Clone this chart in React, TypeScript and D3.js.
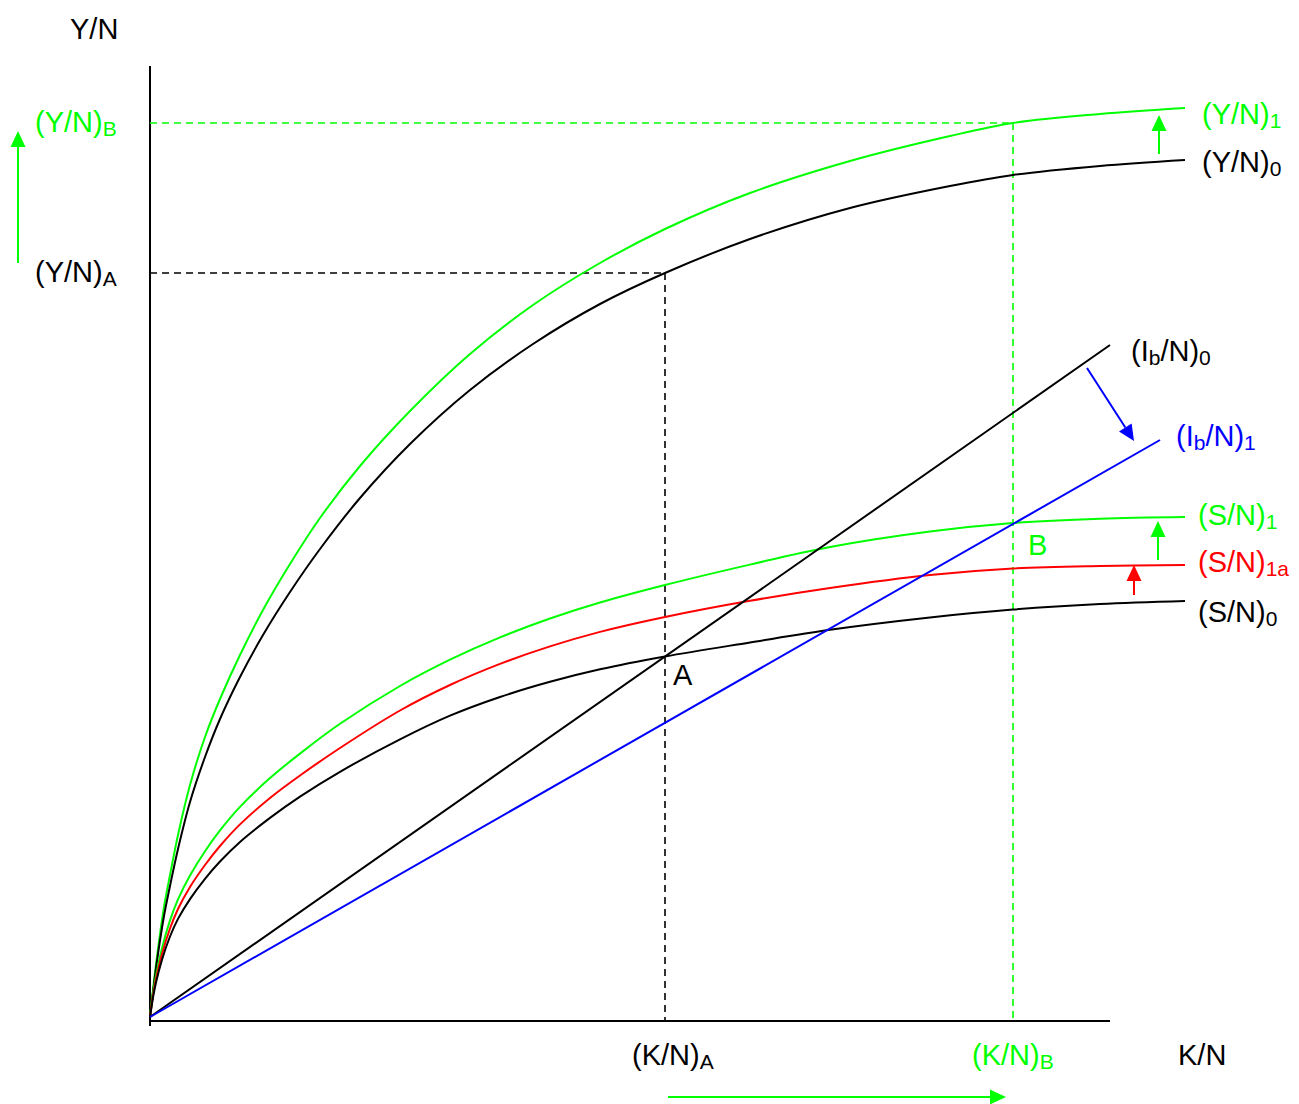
import React from "react";
import * as d3 from "d3";

// ---------- data (K/N on x, per-capita quantities on y) ----------
type P = [number, number];

const outputPerCapita0: P[] = [
  [0, 0], [0.4, 3.3], [0.8, 6.3], [1.4, 10.1], [2, 13.1], [2.8, 16.8], [4, 21.5], [5.5, 26.0],
  [7, 29.8], [9, 34.0], [11.3, 38.2], [14, 42.5], [17, 46.8], [21, 51.9], [26, 57.3],
  [32, 62.7], [38.3, 67.3], [45, 71.3], [51.5, 74.4], [60, 77.8], [70, 80.9], [80, 83.1],
  [86.3, 84.2], [95, 85.1], [103.5, 85.7],
];
const outputPerCapita1: P[] = [
  [0, 0], [0.4, 3.6], [0.8, 6.8], [1.4, 11.0], [2, 14.2], [2.8, 18.2], [4, 23.2], [5.5, 28.0],
  [7, 31.8], [9, 36.2], [11.3, 40.7], [14, 45.3], [17, 49.9], [21, 55.1], [26, 60.6],
  [32, 66.3], [38.3, 71.2], [45, 75.4], [51.5, 78.8], [60, 82.4], [70, 85.6], [80, 88.1],
  [86.3, 89.4], [95, 90.3], [103.5, 90.9],
];
const savingPerCapita0: P[] = [
  [0, 0], [0.3, 1.95], [0.6, 3.45], [1.2, 5.73], [2, 8.05], [2.8, 9.81], [4, 11.79],
  [5.5, 13.82], [7, 15.55], [9, 17.51], [12, 19.91], [15, 22.04], [19, 24.52], [25, 27.76],
  [30, 30.13], [35, 32.0], [40, 33.52], [45, 34.77], [51.5, 36.05], [60, 37.45], [68, 38.72],
  [78, 39.95], [86.3, 40.74], [95, 41.29], [103.5, 41.6],
];
const savingPerCapita1a: P[] = [
  [0, 0], [0.3, 2.15], [0.6, 3.8], [1.2, 6.3], [2, 8.85], [2.8, 10.8], [4, 13.0], [5.5, 15.2],
  [7, 17.1], [9, 19.26], [12, 21.9], [15, 24.15], [19, 26.9], [25, 30.65], [30, 33.2],
  [35, 35.31], [40, 37.06], [45, 38.51], [51.5, 40.0], [60, 41.62], [68, 42.9], [78, 44.2],
  [86.3, 44.85], [95, 45.1], [103.5, 45.2],
];
const savingPerCapita1: P[] = [
  [0, 0], [0.3, 2.34], [0.6, 4.14], [1.2, 6.88], [2, 9.66], [2.8, 11.77], [4, 14.15],
  [5.5, 16.58], [7, 18.66], [9, 21.01], [12, 23.89], [15, 26.34], [19, 29.32], [25, 33.1],
  [30, 35.73], [35, 37.96], [40, 39.85], [45, 41.45], [51.5, 43.2], [60, 45.24], [68, 47.0],
  [78, 48.55], [86.3, 49.4], [95, 49.83], [103.5, 50.0],
];
const breakEven0: P[] = [[0, 0], [96, 67.2]];
const breakEven1: P[] = [[0, 0], [101, 57.7]];

const kA = 51.5;
const kB = 86.3;
const yA = 74.4;
const yB = 89.4;

// arrows: [x1, y1, x2, y2] in data units (tip at x2,y2)
const arrowYLeft = [-13.2, 75.4, -13.2, 88.6];
const arrowYShift = [100.9, 86.3, 100.9, 90.2];
const arrowIb = [93.7, 64.9, 98.4, 57.6];
const arrowS1 = [100.8, 45.7, 100.8, 49.6];
const arrowS1a = [98.4, 42.2, 98.4, 45.2];
const arrowK = [51.8, -8.0, 85.6, -8.0];

const GREEN = "#00ff00";
const RED = "#ff0000";
const BLUE = "#0000ff";
const BLACK = "#000000";

const W = 1299;
const H = 1104;

const x = d3.scaleLinear().domain([0, 96]).range([150, 1110]);
const y = d3.scaleLinear().domain([0, 95.2]).range([1017, 65]);

const curve = d3
  .line<P>()
  .x((d) => x(d[0]))
  .y((d) => y(d[1]))
  .curve(d3.curveCatmullRom.alpha(0.5));

const FONT = "'Liberation Sans', Arial, sans-serif";
const FS = 29;
const SUB = 21;

function Label({
  px, py, main, sub, color, tail, mainAfter,
}: {
  px: number; py: number; main: string; sub?: string; color: string; tail?: string; mainAfter?: string;
}) {
  return (
    <text x={px} y={py} fill={color} fontFamily={FONT} fontSize={FS}>
      {main}
      {sub !== undefined && (
        <tspan fontSize={SUB} dy={4}>{sub}</tspan>
      )}
      {mainAfter !== undefined && (
        <tspan dy={-4}>{mainAfter}</tspan>
      )}
      {tail !== undefined && (
        <tspan fontSize={SUB} dy={4}>{tail}</tspan>
      )}
    </text>
  );
}

function Arrow({ a, color }: { a: number[]; color: string }) {
  const x1 = x(a[0]), y1 = y(a[1]), x2 = x(a[2]), y2 = y(a[3]);
  const ang = Math.atan2(y2 - y1, x2 - x1);
  const len = 16, half = 7.5;
  const bx = x2 - len * Math.cos(ang), by = y2 - len * Math.sin(ang);
  const px = -Math.sin(ang), py = Math.cos(ang);
  const pts = `${x2},${y2} ${bx + half * px},${by + half * py} ${bx - half * px},${by - half * py}`;
  return (
    <g>
      <line x1={x1} y1={y1} x2={bx} y2={by} stroke={color} strokeWidth={2} />
      <polygon points={pts} fill={color} />
    </g>
  );
}

export default function App() {
  const axisY = y(0) + 4;
  return (
    <svg
      width={W}
      height={H}
      viewBox={`0 0 ${W} ${H}`}
      style={{ position: "absolute", left: 0, top: 0, background: "#fff" }}
    >
      {/* axes */}
      <line x1={x(0)} y1={y(0) + 9} x2={x(0)} y2={66} stroke={BLACK} strokeWidth={2} />
      <line x1={x(0)} y1={axisY} x2={x(96)} y2={axisY} stroke={BLACK} strokeWidth={2} />

      {/* guide lines */}
      <g strokeWidth={1.6} strokeDasharray="7,5" fill="none">
        <line x1={x(0)} y1={y(yA)} x2={x(kA)} y2={y(yA)} stroke={BLACK} />
        <line x1={x(kA)} y1={y(yA)} x2={x(kA)} y2={axisY} stroke={BLACK} />
        <line x1={x(0)} y1={y(yB)} x2={x(kB)} y2={y(yB)} stroke={GREEN} />
        <line x1={x(kB)} y1={y(yB)} x2={x(kB)} y2={axisY} stroke={GREEN} />
      </g>

      {/* curves */}
      <g fill="none" strokeWidth={2}>
        <path d={curve(outputPerCapita1) || ""} stroke={GREEN} />
        <path d={curve(outputPerCapita0) || ""} stroke={BLACK} />
        <path d={curve(savingPerCapita1) || ""} stroke={GREEN} />
        <path d={curve(savingPerCapita1a) || ""} stroke={RED} />
        <path d={curve(savingPerCapita0) || ""} stroke={BLACK} />
        <path d={curve(breakEven0) || ""} stroke={BLACK} />
        <path d={curve(breakEven1) || ""} stroke={BLUE} />
      </g>

      {/* arrows */}
      <Arrow a={arrowYLeft} color={GREEN} />
      <Arrow a={arrowYShift} color={GREEN} />
      <Arrow a={arrowIb} color={BLUE} />
      <Arrow a={arrowS1} color={GREEN} />
      <Arrow a={arrowS1a} color={RED} />
      <Arrow a={arrowK} color={GREEN} />

      {/* labels */}
      <text x={70} y={39} fontFamily={FONT} fontSize={FS} fill={BLACK}>Y/N</text>
      <Label px={35} py={y(yB) + 9} main="(Y/N)" sub="B" color={GREEN} />
      <Label px={35} py={y(yA) + 9} main="(Y/N)" sub="A" color={BLACK} />
      <Label px={1202} py={y(90.9) + 16} main="(Y/N)" sub="1" color={GREEN} />
      <Label px={1202} py={y(85.7) + 12} main="(Y/N)" sub="0" color={BLACK} />
      <Label px={1131} py={y(67.2) + 16} main="(I" sub="b" mainAfter="/N)" tail="0" color={BLACK} />
      <Label px={1176} py={y(57.7) + 6} main="(I" sub="b" mainAfter="/N)" tail="1" color={BLUE} />
      <Label px={1198} py={y(50.0) + 8} main="(S/N)" sub="1" color={GREEN} />
      <text x={x(kB) + 15} y={555} fontFamily={FONT} fontSize={FS} fill={GREEN}>B</text>
      <Label px={1198} py={y(45.2) + 7} main="(S/N)" sub="1a" color={RED} />
      <Label px={1198} py={y(41.6) + 21} main="(S/N)" sub="0" color={BLACK} />
      <text x={x(kA) + 8} y={685} fontFamily={FONT} fontSize={FS} fill={BLACK}>A</text>
      <Label px={x(kA) - 33} py={1065} main="(K/N)" sub="A" color={BLACK} />
      <Label px={x(kB) - 41} py={1065} main="(K/N)" sub="B" color={GREEN} />
      <text x={1178} y={1065} fontFamily={FONT} fontSize={FS} fill={BLACK}>K/N</text>
    </svg>
  );
}
